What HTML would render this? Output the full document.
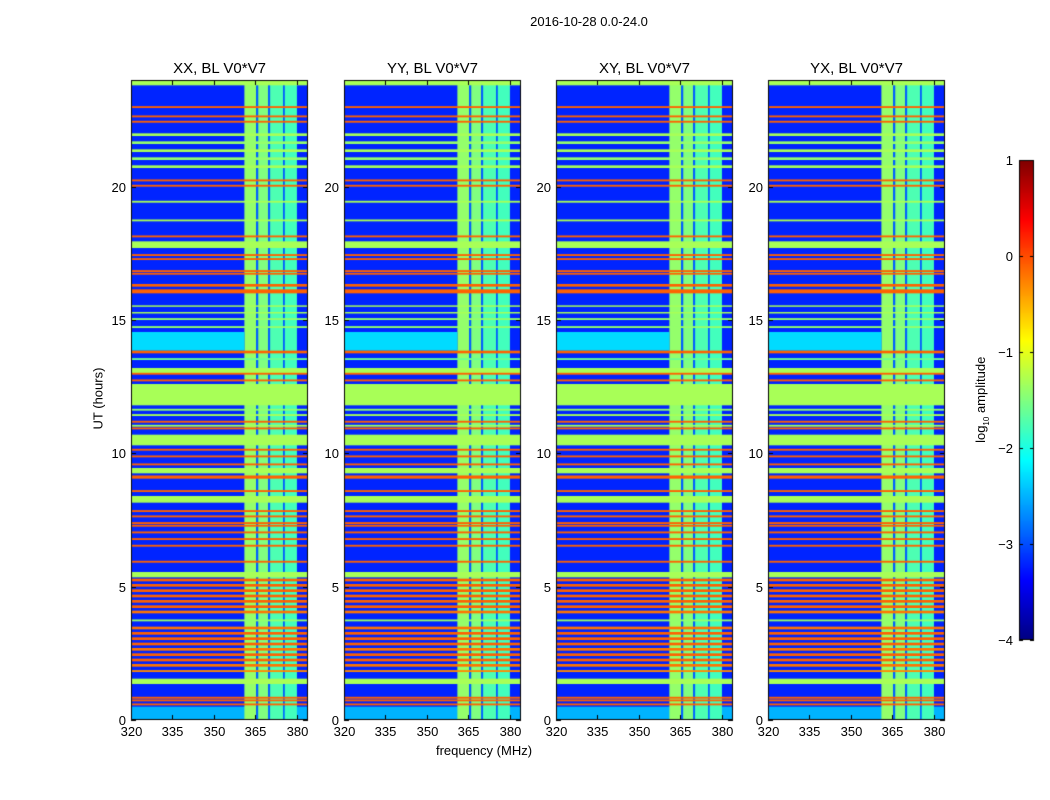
<!DOCTYPE html>
<html><head><meta charset="utf-8"><style>
body{margin:0;background:#fff;width:1050px;height:800px;overflow:hidden;font-family:"Liberation Sans",sans-serif;}
#wrap{position:relative;width:1050px;height:800px;}
.t{position:absolute;font-size:13px;color:#000;white-space:nowrap;}
canvas{position:absolute;}
</style></head><body><div id="wrap">
<div class="t" style="left:489px;top:14px;width:200px;text-align:center">2016-10-28 0.0-24.0</div>
<div class="t" style="left:384px;top:743px;width:200px;text-align:center">frequency (MHz)</div>
<div class="t" style="left:48px;top:391px;width:100px;text-align:center;transform:rotate(-90deg)">UT (hours)</div>
<div class="t" style="left:922px;top:391px;width:120px;text-align:center;transform:rotate(-90deg)">log<sub style="font-size:8px">10</sub> amplitude</div>
<canvas id="cv" width="1050" height="800" style="left:0;top:0"></canvas>
</div>
<script>
const panelTitles=["XX, BL V0*V7","YY, BL V0*V7","XY, BL V0*V7","YX, BL V0*V7"];
const panelLefts=[131,344,556,768];
const xTicks=[320,335,350,365,380];
const yTicks=[0,5,10,15,20];
const cbTicks=[1,0,-1,-2,-3,-4];
// time bands: [start hour, end hour, log10 amplitude]
const bandStart=[23.8,22.95,22.6,22.4,21.9,21.6,21.3,21.0,20.7,20.2,20.0,19.4,18.7,18.1,17.7,17.4,17.25,16.8,16.7,16.25,16.0,15.5,15.5,15.0,14.7,13.8,13.75,13.5,13.0,12.95,12.7,11.8,11.6,11.4,11.15,11.0,10.9,10.3,10.1,9.85,9.55,9.25,9.1,9.05,8.55,8.15,7.8,7.6,7.35,7.25,7.0,6.75,6.5,5.9,5.35,5.2,5.0,4.8,4.6,4.4,4.2,4.0,3.7,3.4,3.2,3.0,2.8,2.6,2.4,2.2,2.0,1.8,1.35,0.8,0.7,0.55];
const bandEnd  =[24.0,23.02,22.67,22.47,22.0,21.7,21.4,21.1,20.8,20.27,20.07,19.47,18.77,18.17,17.95,17.47,17.32,16.87,16.77,16.35,16.15,15.55,15.3,15.07,14.77,14.55,13.85,13.57,13.2,13.02,12.77,12.6,11.67,11.47,11.22,11.07,10.97,10.7,10.17,9.92,9.62,9.45,9.17,9.12,8.62,8.4,7.87,7.67,7.42,7.32,7.07,6.82,6.57,5.97,5.55,5.3,5.1,4.9,4.7,4.5,4.3,4.1,3.77,3.5,3.3,3.1,2.9,2.7,2.5,2.3,2.1,1.87,1.55,0.87,0.77,0.62];
const bandLevel=[-1.3,-0.1,-0.1,-0.1,-1.3,-1.4,-1.3,-1.4,-1.3,-0.1,-0.1,-1.3,-1.3,-0.1,-1.3,-0.1,-0.1,-0.1,-0.1,-0.1,-0.1,-1.3,-1.3,-1.4,-1.4,-2.3,-0.1,-1.6,-1.3,-0.1,-0.1,-1.3,-1.4,-1.3,-0.1,-1.3,-0.1,-1.3,-0.1,-0.1,-0.1,-1.3,-0.1,-0.1,-0.1,-1.3,-0.1,-0.1,-0.1,-0.1,-0.1,-0.1,-0.1,-0.1,-1.3,-0.1,-0.1,-0.1,-0.1,-0.1,-0.1,-0.2,-1.4,-0.2,-0.1,-0.1,-0.1,-0.2,-0.1,-0.1,-0.2,-0.3,-1.3,-0.1,-0.1,-0.1];
const background=-3.2;
// RFI-feature columns in frequency: [start MHz, end MHz, level]
const featStart=[361.0,365.2,366.0,369.6,370.3,375.0,375.6];
const featEnd  =[365.2,366.0,369.6,370.3,375.0,375.6,380.0];
const featLevel=[-1.4,-2.9,-1.5,-2.9,-1.75,-2.9,-1.8];
const X0=320,X1=384,Y0=0,Y1=24,PT=80,PB=720,PW=177;
function jet(v){let t=(v+4)/5;t=Math.max(0,Math.min(1,t));
 const f=x=>Math.round(255*Math.max(0,Math.min(1,x)));
 return `rgb(${f(Math.min(4*t-1.5,-4*t+4.5))},${f(Math.min(4*t-0.5,-4*t+3.5))},${f(Math.min(4*t+0.5,-4*t+2.5))})`;}
const yS=h=>PB-(h-Y0)/(Y1-Y0)*(PB-PT);
const xS=(l,f)=>l+(f-X0)/(X1-X0)*PW;
const c=document.getElementById('cv').getContext('2d');
const W=document.getElementById('wrap');
function txt(s,x,y,al,name){const d=document.createElement('div');d.className='t';d.textContent=s;
 
 
 d.style.top=(y-8)+'px';
 if(al==='r'){d.style.left=(x-60)+'px';d.style.width='60px';d.style.textAlign='right';}
 else{d.style.left=(x-40)+'px';d.style.width='80px';d.style.textAlign='center';}
 W.appendChild(d);return d;}
panelLefts.forEach((L,p)=>{
 c.fillStyle=jet(background);c.fillRect(L,PT,PW,PB-PT);
 c.fillStyle=jet(-2.5);c.fillRect(L,yS(0.5),PW,yS(0)-yS(0.5));
 for(let j=0;j<featStart.length;j++){c.fillStyle=jet(featLevel[j]);c.fillRect(xS(L,featStart[j]),PT,xS(L,featEnd[j])-xS(L,featStart[j]),PB-PT);}
 c.fillStyle=jet(-2.3);c.fillRect(L,yS(14.55),xS(L,361)-L,yS(13.85)-yS(14.55));
 for(let i=0;i<bandStart.length;i++){
  if(bandLevel[i]<-2)continue;
  c.fillStyle=jet(bandLevel[i]);
  const y=yS(bandEnd[i]),h=Math.max(1.5,yS(bandStart[i])-y);
  c.fillRect(L,y,PW,h);
 }
 c.strokeStyle='#000';c.lineWidth=1;c.strokeRect(L+0.5,PT+0.5,PW-1,PB-PT-1);
 c.beginPath();
 xTicks.forEach(v=>{const x=Math.round(xS(L,v))+0.5;c.moveTo(x,PB);c.lineTo(x,PB-5);c.moveTo(x,PT);c.lineTo(x,PT+5);
  txt(String(v),x,PB+12,'c','x-tick-label');});
 yTicks.forEach(v=>{const y=Math.round(yS(v))+0.5;c.moveTo(L,y);c.lineTo(L+5,y);c.moveTo(L+PW,y);c.lineTo(L+PW-5,y);
  txt(String(v),L-5,y,'r','y-tick-label');});
 c.stroke();
 const t=txt(panelTitles[p],L+PW/2,68,'c','panel-title');t.style.fontSize='15px';t.style.left=(L+PW/2-80)+'px';t.style.width='160px';
});
const CX=1019,CW=15,CT=160,CB=640;
for(let y=CT;y<CB;y++){c.fillStyle=jet(1-(y-CT)/(CB-CT)*5);c.fillRect(CX,y,CW,1);}
c.strokeStyle='#000';c.strokeRect(CX+0.5,CT+0.5,CW-1,CB-CT-1);
c.beginPath();
cbTicks.forEach(v=>{const y=Math.round(CT+(1-v)/5*(CB-CT))+0.5;c.moveTo(CX,y);c.lineTo(CX+4,y);c.moveTo(CX+CW,y);c.lineTo(CX+CW-4,y);
 txt(v<0?'\u2212'+(-v):String(v),1013,y,'r','colorbar-tick-label');});
c.stroke();
</script></body></html>
